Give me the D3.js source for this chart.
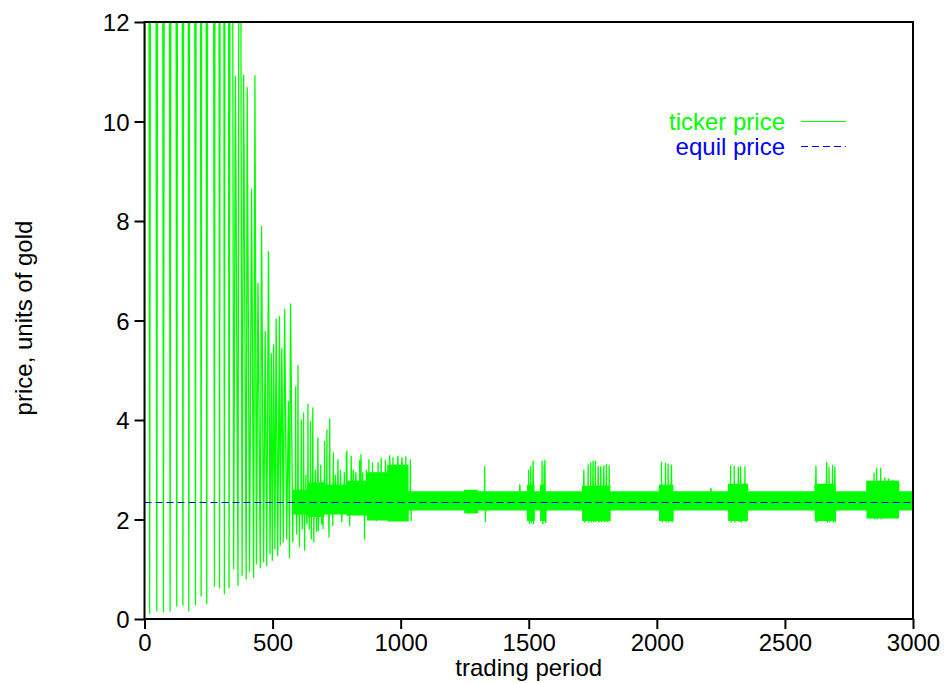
<!DOCTYPE html>
<html>
<head>
<meta charset="utf-8">
<script src="https://cdn.jsdelivr.net/npm/d3@7"></script>
<style>
  html, body { margin: 0; padding: 0; background: #ffffff; }
  svg { display: block; }
  text { font-family: "Liberation Sans", Arial, Helvetica, sans-serif; }
</style>
</head>
<body>
<svg id="chart" width="945" height="683"></svg>
<script>
// ---------------- DATA ----------------
const xTicks = [0, 500, 1000, 1500, 2000, 2500, 3000];
const yTicks = [0, 2, 4, 6, 8, 10, 12];
const xLabel = "trading period";
const yLabel = "price, units of gold";
const seriesNames = ["ticker price", "equil price"];

const equilPrice = 2.36;

// Early oscillation: turning points [period, price] (peaks of 60 are off the chart, estimated)
const earlyTurns = [
  [0,0.55],[8,60],[20,0.10],[34,60],[48,0.15],[61,60],[74,0.13],[87,60],[100,0.15],[113,60],
  [126,0.25],[138,60],[150,0.27],[162,60],[173,0.15],[186,60],[199,0.27],[210,60],[221,0.45],
  [232,60],[243,0.30],[258,60],[273,0.65],[283,60],[293,0.62],[302,60],[312,0.50],[321,60],
  [330,0.62],[339,30],[348,1.0],[355,10.92],[365,0.67],[371,25],[381,0.87],[387,10.94],
  [397,0.80],[401,10.69],[410,0.95],[418,8.65],[426,0.83],[431,10.93],[437,1.1],[443,6.76],
  [452,1.02],[457,7.9],[465,1.14],[471,5.79],[477,1.06],[484,7.39],[490,1.3],[495,5.34],
  [499,1.17],[504,5.52],[509,1.4],[514,6.04],[520,1.26],[527,6.09],[530,1.47],[536,5.44],
  [542,1.54],[547,6.23],[555,1.6],[562,4.38],[566,1.22],[570,6.34],[579,1.54]
];

// Dense trading bands after period 580: start, end, low, high
const bandStarts = [580, 640, 700, 790, 870, 950, 1030, 1250, 1300, 1495, 1522, 1546, 1568, 1710, 1818, 2010, 2064, 2280, 2355, 2618, 2697, 2820, 2945];
const bandEnds   = [640, 700, 790, 870, 950, 1030, 1250, 1300, 1495, 1522, 1546, 1568, 1710, 1818, 2010, 2064, 2280, 2355, 2618, 2697, 2820, 2945, 3001];
const bandLows   = [2.1, 2.05, 2.1, 2.08, 1.98, 1.96, 2.18, 2.12, 2.18, 1.97, 2.18, 1.97, 2.18, 1.97, 2.18, 1.97, 2.18, 1.97, 2.18, 1.97, 2.18, 2.02, 2.18];
const bandHighs  = [2.6, 2.75, 2.7, 2.78, 2.95, 3.1, 2.57, 2.6, 2.57, 2.7, 2.57, 2.7, 2.57, 2.68, 2.57, 2.7, 2.57, 2.72, 2.57, 2.72, 2.57, 2.78, 2.57];

// Individual spikes inside the dense bands: [period, price]
const spikes = [
  [590,4.68],[594,1.7],[599,5.1],[605,1.44],[612,4.01],[616,1.8],[621,4.15],[625,1.37],
  [630,2.9],[634,1.9],[638,4.33],[643,1.8],[648,3.98],[651,1.6],[657,4.25],[661,1.54],
  [667,3.0],[672,1.75],[677,3.65],[679,1.77],[688,3.1],[692,1.9],
  [697,1.81],[703,3.58],[712,3.81],[720,1.64],[723,4.03],[735,1.87],[737,3.35],[745,2.9],
  [755,3.21],[765,3.0],[770,1.95],[780,2.95],
  [788,3.35],[790,3.38],[793,2.07],[801,1.87],[807,3.28],[815,3.0],[825,2.95],[840,3.2],[845,3.31],
  [852,2.95],[859,1.6],[866,3.0],
  [876,3.21],[890,3.15],[905,1.97],[912,3.15],[924,3.24],[940,3.2],[957,3.29],[970,3.25],[989,3.28],
  [1005,3.25],[1020,3.27],
  [1038,3.21],[1041,1.97],[1328,3.07],[1331,1.95],[1465,2.71],
  [1500,3.0],[1503,1.91],[1508,3.08],[1511,1.93],[1517,3.18],[1519,1.91],
  [1552,3.18],[1555,1.91],[1560,3.1],[1563,3.2],[1566,1.93],
  [1715,3.0],[1718,1.94],[1732,3.11],[1735,1.94],[1742,3.15],[1745,1.94],[1751,3.18],[1754,1.95],
  [1760,3.18],[1763,1.95],[1771,3.08],[1774,1.94],[1781,3.07],[1784,1.95],[1793,3.09],[1796,1.95],
  [1803,3.11],[1806,1.95],[1814,3.09],[1817,1.96],
  [2018,3.16],[2021,1.94],[2034,3.14],[2037,1.94],[2044,3.12],[2047,1.94],[2057,3.1],[2060,1.95],
  [2211,2.63],
  [2288,3.09],[2291,1.94],[2302,3.08],[2305,1.94],[2318,3.06],[2321,1.95],[2327,3.07],[2330,1.94],
  [2344,3.07],[2347,1.95],
  [2621,3.08],[2624,1.94],[2663,3.16],[2666,1.94],[2672,3.06],[2675,1.94],[2686,3.1],[2689,1.94],
  [2695,3.06],[2697,1.95],
  [2848,2.94],[2851,2.0],[2858,3.04],[2861,2.0],[2874,3.04],[2877,2.0],[2890,2.85],[2905,2.82],[2920,2.8]
];

// ---------------- BUILD SERIES ----------------
const spikeMap = new Map(spikes.map(d => [d[0], d[1]]));
const ticker = earlyTurns.map(d => ({t: d[0], v: d[1]}));
bandStarts.forEach((s, i) => {
  for (let t = s; t < Math.min(bandEnds[i], 3001); t++) {
    const v = spikeMap.has(t) ? spikeMap.get(t) : (t % 2 === 0 ? bandHighs[i] : bandLows[i]);
    ticker.push({t, v});
  }
});

// ---------------- LAYOUT ----------------
const svg = d3.select("#chart");
const plot = {left: 144.5, right: 913, top: 22, bottom: 619};

const x = d3.scaleLinear().domain([0, 3000]).range([plot.left, plot.right]);
const y = d3.scaleLinear().domain([0, 12]).range([plot.bottom, plot.top]);

svg.append("defs").append("clipPath").attr("id", "clip")
  .append("rect")
  .attr("x", plot.left).attr("y", plot.top)
  .attr("width", plot.right - plot.left).attr("height", plot.bottom - plot.top);

const g = svg.append("g").attr("clip-path", "url(#clip)");

g.append("path")
  .datum(ticker)
  .attr("fill", "none")
  .attr("stroke", "#00ff00")
  .attr("stroke-width", 1.3)
  .attr("stroke-linejoin", "miter")
  .attr("stroke-miterlimit", 1)
  .attr("d", d3.line().x(d => x(d.t)).y(d => y(d.v)));

const eqY = Math.round(y(equilPrice)) + 0.5;
g.append("line")
  .attr("x1", x(0)).attr("x2", x(3000))
  .attr("y1", eqY).attr("y2", eqY)
  .attr("stroke", "#0000ff")
  .attr("stroke-width", 1.2)
  .attr("stroke-dasharray", "7,4");

// Axes
const fontSize = 24;
const xAxis = svg.append("g")
  .attr("transform", `translate(0,${plot.bottom})`)
  .call(d3.axisBottom(x).tickValues(xTicks).tickFormat(d3.format("d"))
    .tickSize(10).tickSizeOuter(0).tickPadding(5));
const yAxis = svg.append("g")
  .attr("transform", `translate(${plot.left},0)`)
  .call(d3.axisLeft(y).tickValues(yTicks).tickFormat(d3.format("d"))
    .tickSize(10).tickSizeOuter(0).tickPadding(5));

[xAxis, yAxis].forEach(a => {
  a.select(".domain").remove();
  a.selectAll(".tick line").attr("stroke", "#000").attr("stroke-width", 2);
  a.selectAll(".tick text")
    .attr("fill", "#000")
    .style("font-size", fontSize + "px")
    .style("font-family", '"Liberation Sans", Arial, sans-serif');
});
yAxis.selectAll(".tick text").attr("dy", "0.36em");

// Frame
svg.append("rect")
  .attr("x", plot.left).attr("y", plot.top)
  .attr("width", plot.right - plot.left).attr("height", plot.bottom - plot.top)
  .attr("fill", "none").attr("stroke", "#000").attr("stroke-width", 2);

// Axis titles
svg.append("text")
  .attr("x", (plot.left + plot.right) / 2).attr("y", 676)
  .attr("text-anchor", "middle")
  .style("font-size", fontSize + "px")
  .text(xLabel);

svg.append("text")
  .attr("transform", `translate(32,${318}) rotate(-90)`)
  .attr("text-anchor", "middle")
  .style("font-size", fontSize + "px")
  .text(yLabel);

// Legend
const legend = svg.append("g");
const legendItems = [
  {name: seriesNames[0], color: "#00ff00", dash: null, ty: 130, ly: 121.5},
  {name: seriesNames[1], color: "#0000ff", dash: "7,4", ty: 155, ly: 146.5}
];
legendItems.forEach(it => {
  legend.append("text")
    .attr("x", 785).attr("y", it.ty)
    .attr("text-anchor", "end")
    .attr("fill", it.color)
    .style("font-size", fontSize + "px")
    .text(it.name);
  legend.append("line")
    .attr("x1", 801).attr("x2", 846)
    .attr("y1", it.ly).attr("y2", it.ly)
    .attr("stroke", it.color).attr("stroke-width", 1)
    .attr("stroke-dasharray", it.dash);
});
</script>
</body>
</html>
